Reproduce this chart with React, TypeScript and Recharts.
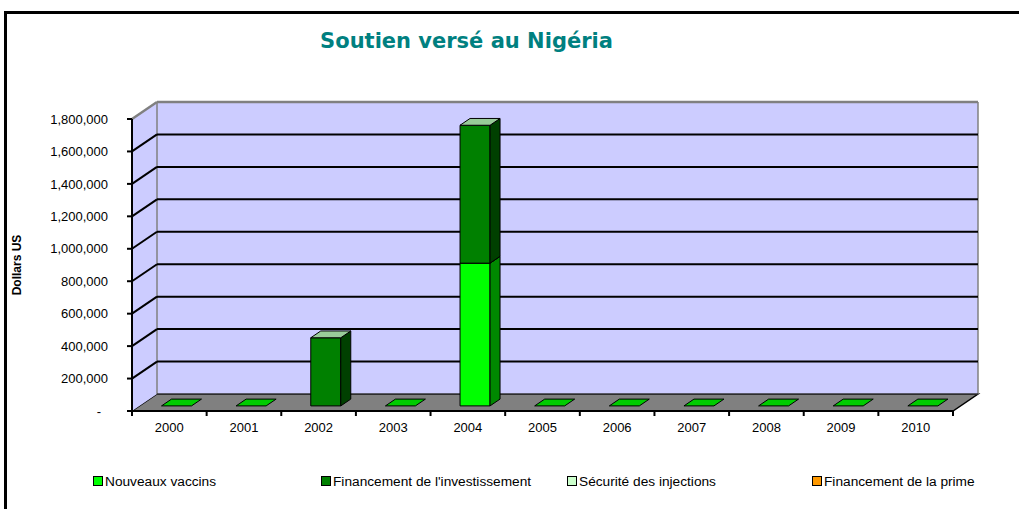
import React from "react";
import { BarChart, Bar, XAxis, YAxis, ReferenceArea } from "recharts";

// valeurs (dollars US)
const years = ["2000", "2001", "2002", "2003", "2004", "2005", "2006", "2007", "2008", "2009", "2010"];
const nouveauxVaccins = [0, 0, 0, 0, 880000, 0, 0, 0, 0, 0, 0];
const financementInvestissement = [0, 0, 420000, 0, 850000, 0, 0, 0, 0, 0, 0];
const securiteInjections = [0, 0, 0, 0, 0, 0, 0, 0, 0, 0, 0];
const financementPrime = [0, 0, 0, 0, 0, 0, 0, 0, 0, 0, 0];
const seriesNames = [
  "Nouveaux vaccins",
  "Financement de l'investissement",
  "Sécurité des injections",
  "Financement de la prime",
];
const seriesKeys = ["nouveaux", "invest", "securite", "prime"];
const yTicks = [0, 200000, 400000, 600000, 800000, 1000000, 1200000, 1400000, 1600000, 1800000];

const data = years.map((year, i) => ({
  year,
  nouveaux: nouveauxVaccins[i],
  invest: financementInvestissement[i],
  securite: securiteInjections[i],
  prime: financementPrime[i],
}));

// couleurs : face avant, côté, dessus
const colors = [
  { front: "#00ff00", side: "#008800", top: "#00cc00" },
  { front: "#008000", side: "#004000", top: "#99cc99" },
  { front: "#ccffcc", side: "#99cc99", top: "#e6ffe6" },
  { front: "#ff9900", side: "#cc6600", top: "#ffcc66" },
];

// profondeur de la perspective
const DX = 25;
const DY = -17;
const BAR_OX = DX * 0.3;
const BAR_OY = DY * 0.3;
const BAR_DX = DX * 0.4;
const BAR_DY = DY * 0.4;

const WALL = "#ccccff";
const EDGE = "#808080";

function WallBand({ x, y, width, height, index, last }: any) {
  const top = y;
  const bottom = y + height;
  const r = x + width;
  return (
    <g>
      {index === 0 && (
        <polygon
          points={`${x},${bottom} ${r},${bottom} ${r + DX},${bottom + DY} ${x + DX},${bottom + DY}`}
          fill="#808080"
          stroke="#000"
          strokeWidth={1.5}
        />
      )}
      <polygon
        points={`${x},${bottom} ${x},${top} ${x + DX},${top + DY} ${x + DX},${bottom + DY}`}
        fill={WALL}
      />
      <rect x={x + DX} y={top + DY} width={width} height={height} fill={WALL} />
      <line x1={x + DX} y1={top + DY} x2={x + DX} y2={bottom + DY} stroke={EDGE} strokeWidth={1.5} />
      <line x1={r + DX} y1={top + DY} x2={r + DX} y2={bottom + DY} stroke={EDGE} strokeWidth={1.5} />
      {index === 0 ? (
        <line x1={x + DX} y1={bottom + DY} x2={r + DX} y2={bottom + DY} stroke="#333" strokeWidth={1.5} />
      ) : (
        <>
          <line x1={x} y1={bottom} x2={x + DX} y2={bottom + DY} stroke="#000" strokeWidth={2} />
          <line x1={x + DX} y1={bottom + DY} x2={r + DX} y2={bottom + DY} stroke="#000" strokeWidth={2} />
        </>
      )}
      {last && (
        <>
          <line x1={x} y1={top} x2={x + DX} y2={top + DY} stroke={EDGE} strokeWidth={2.5} />
          <line x1={x + DX} y1={top + DY} x2={r + DX} y2={top + DY} stroke={EDGE} strokeWidth={2.5} />
        </>
      )}
    </g>
  );
}

function makeBox(series: number) {
  return (props: any) => {
    const { x, y, width, height, payload } = props;
    const c = colors[series];
    const total = seriesKeys.reduce((s, k) => s + (payload?.[k] || 0), 0);
    const fx = x + BAR_OX;
    const fy = y + BAR_OY;
    const h = Math.abs(height || 0);
    const topFace = `${fx},${fy} ${fx + width},${fy} ${fx + width + BAR_DX},${fy + BAR_DY} ${fx + BAR_DX},${fy + BAR_DY}`;
    if (h < 0.5) {
      if (series === 0 && total === 0) {
        return <polygon points={topFace} fill={c.top} stroke="#000" strokeWidth={1} />;
      }
      return <g />;
    }
    return (
      <g stroke="#000" strokeWidth={1} strokeLinejoin="round">
        <rect x={fx} y={fy} width={width} height={h} fill={c.front} />
        <polygon
          points={`${fx + width},${fy} ${fx + width + BAR_DX},${fy + BAR_DY} ${fx + width + BAR_DX},${fy + h + BAR_DY} ${fx + width},${fy + h}`}
          fill={c.side}
        />
        <polygon points={topFace} fill={c.top} />
      </g>
    );
  };
}

const XTick = (props: any) => {
  const { x, y, payload, index } = props;
  const half = payload?.offset || 37.3;
  const axisY = y - 12;
  return (
    <g>
      <line x1={x - half} y1={axisY} x2={x - half} y2={axisY + 5} stroke="#000" strokeWidth={2} />
      {index === years.length - 1 && (
        <line x1={x + half} y1={axisY} x2={x + half} y2={axisY + 5} stroke="#000" strokeWidth={2} />
      )}
      <text x={x} y={y} dy="0.71em" textAnchor="middle" fontSize={13} fill="#000">
        {payload.value}
      </text>
    </g>
  );
};

const YTick = (props: any) => {
  const { x, y, payload } = props;
  const v = payload.value;
  return (
    <text x={v === 0 ? x - 7 : x} y={y} dy="0.36em" textAnchor="end" fontSize={13} fill="#000">
      {v === 0 ? "-" : v.toLocaleString("en-US")}
    </text>
  );
};

const legendX = [93, 321, 567, 812];

export default function App() {
  return (
    <div
      style={{
        position: "absolute",
        left: 0,
        top: 0,
        width: 1019,
        height: 509,
        background: "#fff",
        fontFamily: "'Liberation Sans', Arial, sans-serif",
        overflow: "hidden",
      }}
    >
      <div
        style={{
          position: "absolute",
          left: 4,
          top: 11,
          width: 1030,
          height: 520,
          borderTop: "3px solid #000",
          borderLeft: "3px solid #000",
        }}
      />
      <div
        style={{
          position: "absolute",
          left: 0,
          top: 31,
          width: 933,
          textAlign: "center",
          fontFamily: "'DejaVu Sans', Verdana, sans-serif",
          fontWeight: "bold",
          fontSize: 21,
          lineHeight: "21px",
          color: "#008080",
        }}
      >
        Soutien versé au Nigéria
      </div>
      <BarChart
        width={1019}
        height={509}
        data={data}
        margin={{ top: 119, right: 66, bottom: 68, left: 8 }}
        barSize={30}
        style={{ position: "absolute", left: 0, top: 0 }}
      >
        {yTicks.slice(0, -1).map((v, i) => (
          <ReferenceArea
            key={v}
            y1={v}
            y2={yTicks[i + 1]}
            ifOverflow="visible"
            shape={(p: any) => <WallBand {...p} index={i} last={i === yTicks.length - 2} />}
          />
        ))}
        <XAxis
          dataKey="year"
          interval={0}
          height={30}
          tickSize={5}
          tickMargin={7}
          tickLine={false}
          axisLine={{ stroke: "#000", strokeWidth: 2 }}
          tick={<XTick />}
        />
        <YAxis
          type="number"
          domain={[0, 1800000]}
          ticks={yTicks}
          width={124}
          tickSize={5}
          tickMargin={19}
          axisLine={{ stroke: "#000", strokeWidth: 2 }}
          tickLine={{ stroke: "#000", strokeWidth: 2 }}
          tick={<YTick />}
          label={{
            value: "Dollars US",
            angle: -90,
            position: "insideLeft",
            offset: 9,
            style: { textAnchor: "middle", fontWeight: "bold", fontSize: 12, fill: "#000" },
          }}
        />
        {seriesKeys.map((k, i) => (
          <Bar
            key={k}
            dataKey={k}
            name={seriesNames[i]}
            stackId="a"
            fill={colors[i].front}
            shape={makeBox(i)}
            isAnimationActive={false}
          />
        ))}
      </BarChart>
      {seriesNames.map((name, i) => (
        <div
          key={name}
          style={{
            position: "absolute",
            left: legendX[i],
            top: 473,
            height: 16,
            display: "flex",
            alignItems: "center",
            fontSize: 13.7,
            color: "#000",
            whiteSpace: "nowrap",
          }}
        >
          <span
            style={{
              display: "inline-block",
              width: 8,
              height: 8,
              border: "1px solid #000",
              background: colors[i].front,
              marginRight: 2,
            }}
          />
          {name}
        </div>
      ))}
    </div>
  );
}
